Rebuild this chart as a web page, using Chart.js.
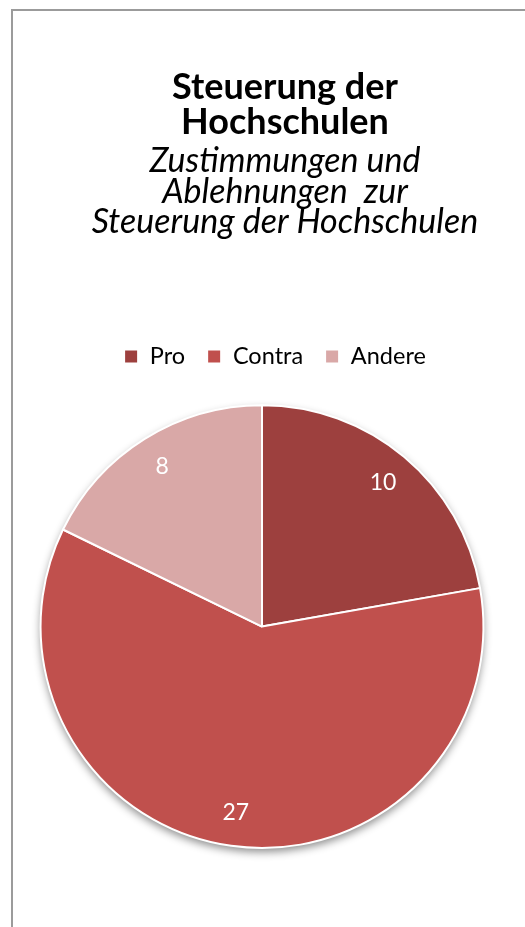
<!DOCTYPE html>
<html lang="de">
<head>
<meta charset="UTF-8">
<title>Steuerung der Hochschulen</title>
<script src="https://cdn.jsdelivr.net/npm/chart.js"></script>
<style>
  html, body { margin: 0; padding: 0; background: #fff; overflow: hidden; }
  body { width: 525px; height: 927px; position: relative; }
  .frame {
    position: absolute; left: 11px; top: 9px; width: 600px; height: 1000px;
    border-left: 2px solid #9b9b9b; border-top: 2px solid #9b9b9b;
  }
  .chart-box { position: absolute; left: 13px; top: 11px; width: 544px; height: 870px; }
</style>
</head>
<body>
<div class="frame"></div>
<div class="chart-box"><canvas id="pie"></canvas></div>
<script>
  const categories = ['Pro', 'Contra', 'Andere'];
  const votes = [10, 27, 8];
  const sliceColors = ['#9d403e', '#c0504d', '#d9a8a7'];
  const titleLines = ['Steuerung der', 'Hochschulen'];
  const subtitleLines = ['Zustimmungen und', 'Ablehnungen  zur', 'Steuerung der Hochschulen'];

  const FONT = 'Lato, "Open Sans", sans-serif';
  const PIE_SHIFT = 23;    // pie sits a little left of the text block
  const LEGEND_SHIFT = 10; // legend row sits a little left too
  const LEGEND_GAP = 26;   // extra room between legend and pie

  // move pie and legend left without moving the titles
  const shiftPie = {
    id: 'shiftPie',
    afterLayout(chart) {
      const a = chart.chartArea;
      a.right -= PIE_SHIFT * 2;
      a.width = a.right - a.left;
      chart.legend.left -= LEGEND_SHIFT;
      chart.legend.right -= LEGEND_SHIFT;
    }
  };

  // make the legend box taller so the pie starts lower
  const legendGap = {
    id: 'legendGap',
    beforeInit(chart) {
      const fit = chart.legend.fit;
      chart.legend.fit = function () {
        fit.call(this);
        this.height += LEGEND_GAP;
      };
    }
  };

  // soft drop shadow behind the whole pie
  const pieShadow = {
    id: 'pieShadow',
    beforeDatasetsDraw(chart) {
      const arc = chart.getDatasetMeta(0).data[0];
      if (!arc) return;
      const ctx = chart.ctx;
      ctx.save();
      ctx.shadowColor = 'rgba(0,0,0,0.45)';
      ctx.shadowBlur = 8;
      ctx.shadowOffsetY = 4;
      ctx.fillStyle = '#fff';
      ctx.beginPath();
      ctx.arc(arc.x, arc.y, arc.outerRadius, 0, Math.PI * 2);
      ctx.fill();
      ctx.restore();
    }
  };

  // value labels inside each slice
  const sliceLabels = {
    id: 'sliceLabels',
    afterDatasetsDraw(chart) {
      const ctx = chart.ctx;
      const meta = chart.getDatasetMeta(0);
      ctx.save();
      ctx.fillStyle = '#ffffff';
      ctx.font = '23px ' + FONT;
      ctx.textAlign = 'center';
      ctx.textBaseline = 'middle';
      meta.data.forEach((arc, i) => {
        const mid = (arc.startAngle + arc.endAngle) / 2;
        const r = arc.outerRadius * 0.85;
        ctx.fillText(String(votes[i]), arc.x + Math.cos(mid) * r, arc.y + Math.sin(mid) * r);
      });
      ctx.restore();
    }
  };

  new Chart(document.getElementById('pie'), {
    type: 'pie',
    data: {
      labels: categories,
      datasets: [{
        data: votes,
        backgroundColor: sliceColors,
        borderColor: '#ffffff',
        borderWidth: 2
      }]
    },
    options: {
      responsive: true,
      maintainAspectRatio: false,
      animation: false,
      layout: { padding: { bottom: 32 } },
      plugins: {
        title: {
          display: true,
          text: titleLines,
          color: '#000',
          font: { family: FONT, size: 36, weight: 'bold', lineHeight: 0.97 },
          padding: { top: 59, bottom: 0 }
        },
        subtitle: {
          display: true,
          text: subtitleLines,
          color: '#000',
          font: { family: FONT, size: 34, style: 'italic', lineHeight: 0.9 },
          padding: { top: 6, bottom: 85 }
        },
        legend: {
          position: 'top',
          labels: {
            color: '#000',
            boxWidth: 14,
            boxHeight: 14,
            padding: 22,
            font: { family: FONT, size: 23.5 }
          }
        },
        tooltip: { enabled: false }
      }
    },
    plugins: [legendGap, shiftPie, pieShadow, sliceLabels]
  });
</script>
</body>
</html>
